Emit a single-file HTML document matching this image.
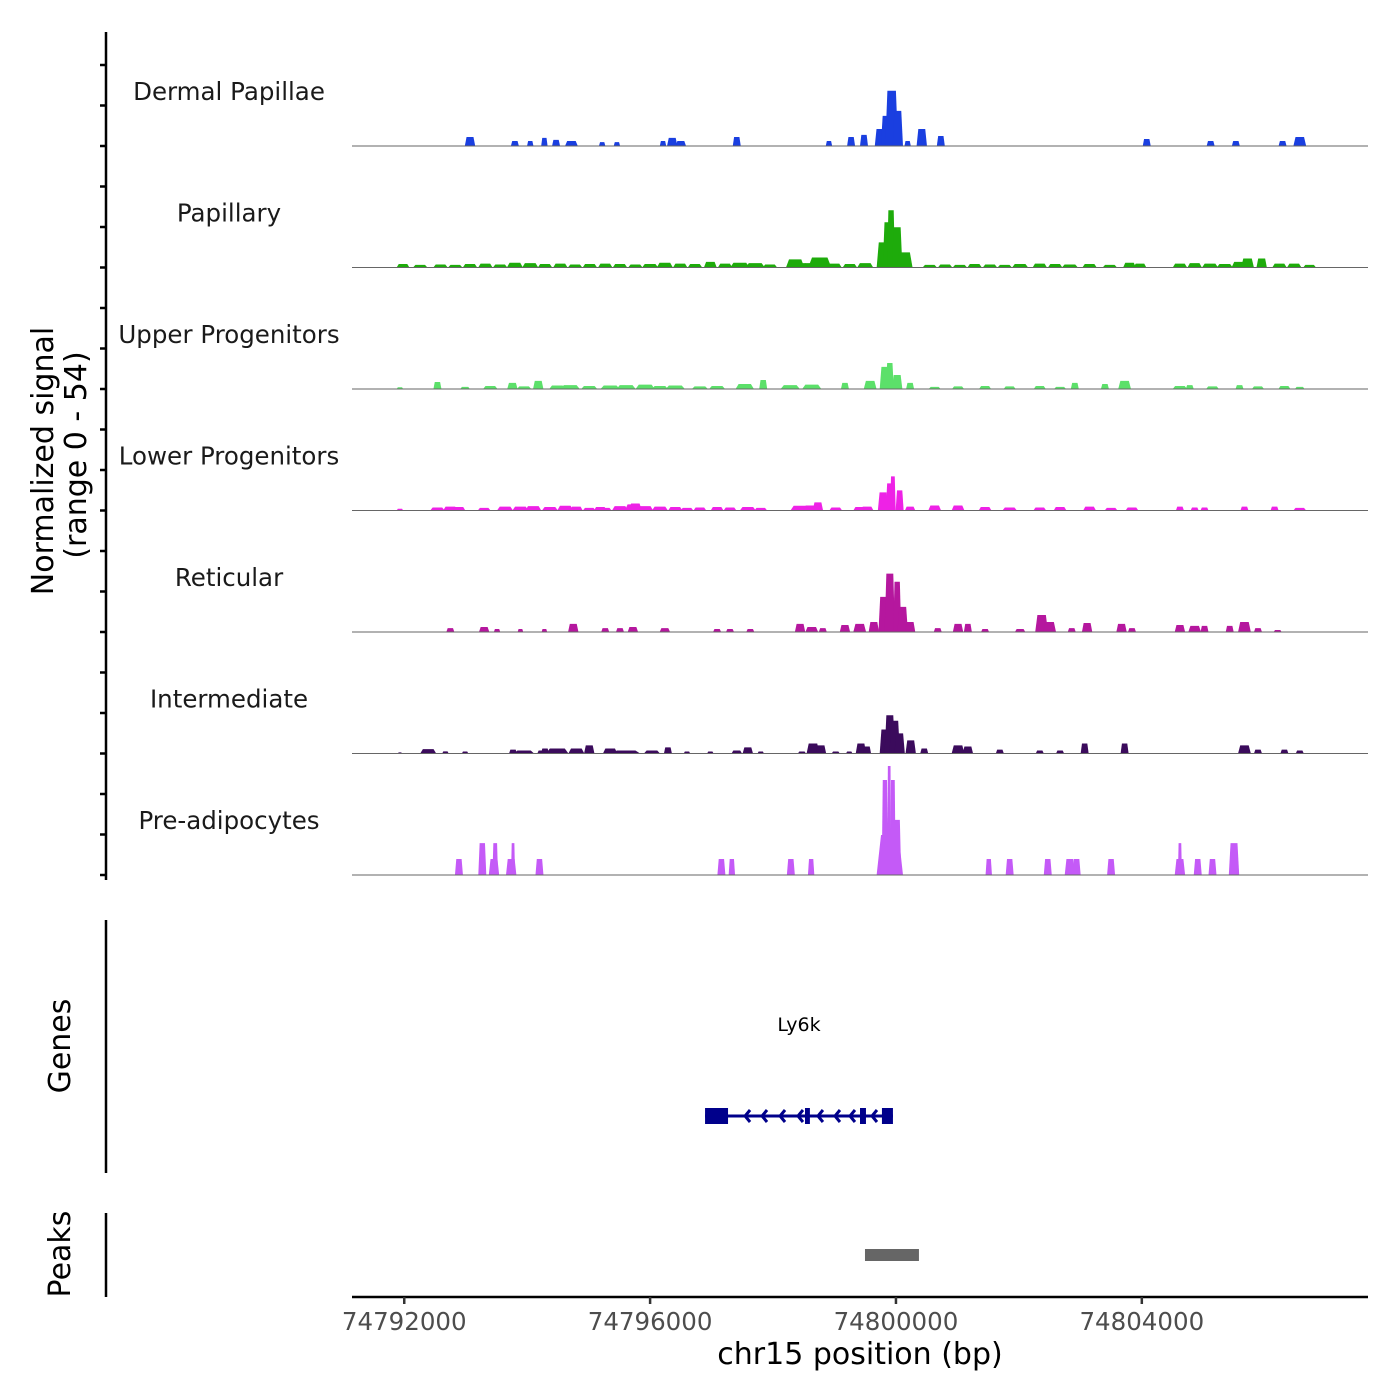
<!DOCTYPE html>
<html><head><meta charset="utf-8"><style>
html,body{margin:0;padding:0;background:#fff}
svg{display:block;font-family:"DejaVu Sans","Liberation Sans",sans-serif}
</style></head><body>
<svg id="chart" width="1400" height="1400" viewBox="0 0 1400 1400">
<g id="tracks"></g>
<line x1="106" y1="32" x2="106" y2="880" stroke="#000" stroke-width="2.5"/>
<g id="yticks"></g>
<text transform="translate(53,461) rotate(-90)" text-anchor="middle" font-size="30" fill="#000">Normalized signal</text>
<text transform="translate(86,455) rotate(-90)" text-anchor="middle" font-size="30" fill="#000">(range 0 - 54)</text>
<line x1="106" y1="920" x2="106" y2="1173" stroke="#000" stroke-width="2.5"/>
<text transform="translate(70,1046) rotate(-90)" text-anchor="middle" font-size="30" fill="#000">Genes</text>
<line x1="106" y1="1213" x2="106" y2="1297" stroke="#000" stroke-width="2.5"/>
<text transform="translate(70,1254) rotate(-90)" text-anchor="middle" font-size="30" fill="#000">Peaks</text>
<g id="gene"></g>
<text x="799" y="1031" text-anchor="middle" font-size="19" fill="#000">Ly6k</text>
<g id="peaks"></g>
<line x1="352" y1="1297" x2="1368" y2="1297" stroke="#000" stroke-width="2.5"/>
<g id="xticks"></g>
<text x="860" y="1364" text-anchor="middle" font-size="30" fill="#000">chr15 position (bp)</text>
</svg>
<script>
const OFFSET = 74790000; // positions stored in kb from this offset
const trackNames = ["Dermal Papillae","Papillary","Upper Progenitors","Lower Progenitors","Reticular","Intermediate","Pre-adipocytes"];
const trackColors = ["#1a3fe0","#1eab0b","#5ce06a","#ee22e6","#b5179e","#3b0b5c","#c45af7"];
const xTickValues = [74792000,74796000,74800000,74804000];
const peakStart = 74799496, peakEnd = 74800374;

const dpPos=[3.07,3.80,4.05,4.28,4.47,4.72,5.22,5.46,6.21,6.36,6.50,7.41,8.91,9.27,9.48,9.74,9.84,9.93,10.03,10.19,10.42,10.73,14.08,15.12,15.53,16.29,16.57];
const dpVal=[4.1,2.3,2.3,3.7,2.8,2.3,1.8,1.8,2.3,3.7,2.3,4.1,2.3,4.1,5.1,7.8,13.8,25.3,16.1,2.3,7.8,4.6,3.2,2.3,2.3,2.3,4.1];
const dpWid=[130,100,80,80,100,160,80,80,80,130,130,100,80,100,100,130,130,160,130,80,130,100,100,100,100,100,160];

const paPos=[1.98,2.26,2.59,2.83,3.07,3.32,3.56,3.80,4.05,4.29,4.54,4.78,5.02,5.27,5.51,5.76,6.00,6.24,6.49,6.73,6.98,7.22,7.46,7.71,7.95,8.36,8.44,8.60,8.76,9.00,9.25,9.50,9.79,9.87,9.92,10.02,10.14,10.55,10.80,11.04,11.28,11.53,11.77,12.02,12.34,12.59,12.83,13.15,13.48,13.80,13.97,14.62,14.86,15.11,15.35,15.59,15.72,15.95,16.24,16.48,16.73];
const paVal=[1.6,1.2,1.4,1.2,1.6,1.8,1.4,2.2,2.0,1.6,1.8,1.4,1.6,1.8,1.6,1.4,1.6,2.2,1.8,1.6,2.6,1.8,2.2,2.0,1.4,3.7,2.0,2.0,4.6,1.8,1.6,2.0,11.5,20.7,26.2,18.4,6.9,1.2,1.4,1.2,1.6,1.4,1.2,1.6,1.8,1.6,1.4,1.6,1.2,2.2,1.8,1.8,2.0,1.8,1.6,2.6,4.1,4.1,1.8,1.8,1.2];
const paWid=[160,180,180,180,180,180,180,200,200,180,180,180,180,180,180,180,200,200,180,180,160,180,240,240,180,230,200,180,290,180,180,200,160,130,100,130,200,180,180,180,180,180,180,200,180,180,200,180,180,160,160,180,180,200,200,200,160,130,180,180,160];

const upPos=[1.93,2.54,2.99,3.40,3.76,3.95,4.18,4.49,4.70,5.01,5.35,5.61,5.92,6.16,6.41,6.81,7.09,7.54,7.84,8.28,8.63,9.17,9.58,9.82,9.90,10.02,10.23,10.63,11.01,11.45,11.85,12.34,12.67,12.91,13.40,13.72,14.62,14.78,15.15,15.59,15.89,16.32,16.57];
const upVal=[0.8,3.2,1.0,1.4,2.8,1.2,3.7,1.6,1.8,1.4,1.6,1.8,2.0,1.4,1.6,1.2,1.4,2.3,4.1,1.8,2.0,2.8,3.7,10.1,11.9,6.4,2.8,1.0,1.2,1.4,1.2,1.4,1.0,2.8,2.3,3.7,1.4,1.8,1.2,1.8,1.2,1.4,1.0];
const upWid=[80,100,120,180,130,180,130,200,240,200,240,240,240,200,240,200,200,230,100,240,240,100,160,130,100,130,100,150,150,150,150,150,150,100,100,160,180,100,160,100,150,150,120];

const loPos=[1.93,2.54,2.75,2.89,3.30,3.64,3.89,4.10,4.37,4.62,4.80,5.01,5.19,5.27,5.51,5.72,5.76,5.92,6.16,6.41,6.60,6.81,7.09,7.30,7.59,7.80,8.44,8.62,8.73,9.02,9.41,9.53,9.79,9.90,9.95,10.06,10.23,10.63,11.01,11.45,11.85,12.34,12.67,13.15,13.50,13.84,14.62,14.86,15.02,15.67,16.16,16.57];
const loVal=[0.8,1.4,1.8,1.6,1.2,1.8,1.8,2.0,1.6,2.2,1.8,1.2,1.6,1.2,2.0,2.8,3.2,2.0,1.8,1.6,1.2,1.4,1.6,1.4,1.6,1.2,2.2,2.3,3.7,1.4,1.6,1.8,8.3,12.4,15.6,9.2,1.8,2.3,2.3,1.6,1.4,1.4,1.6,1.8,1.2,1.4,1.8,1.4,1.4,1.8,1.8,1.2];
const loWid=[80,180,180,160,160,200,200,200,200,200,160,160,160,160,200,200,160,200,200,180,160,160,160,160,200,160,240,200,130,160,160,160,130,100,70,100,130,160,160,160,180,160,160,160,160,160,100,100,100,100,100,160];

const rePos=[2.75,3.30,3.51,3.89,4.28,4.75,5.27,5.51,5.72,6.24,7.09,7.30,7.63,8.44,8.63,8.81,9.17,9.41,9.64,9.80,9.90,10.02,10.11,10.23,10.68,11.01,11.17,11.45,12.02,12.37,12.50,12.86,13.11,13.67,13.84,14.62,14.86,15.02,15.43,15.67,15.89,16.21];
const reVal=[1.8,2.3,1.4,1.4,1.4,3.7,1.8,1.8,2.3,1.8,1.4,1.4,1.4,3.7,2.3,1.8,3.2,3.7,4.6,16.1,26.7,23.0,11.5,4.6,1.8,3.7,3.7,1.4,1.4,7.8,4.6,1.8,4.1,3.7,1.8,3.2,2.8,2.8,2.8,4.6,1.8,0.9];
const reWid=[100,130,80,70,70,130,100,100,130,130,100,100,100,130,160,100,130,160,130,130,130,100,130,130,100,130,100,100,130,160,160,100,130,130,100,130,160,100,100,160,100,100];

const inPos=[1.93,2.39,2.67,2.99,3.77,3.95,4.23,4.29,4.49,4.80,5.01,5.35,5.61,6.03,6.29,6.60,6.98,7.41,7.59,7.80,8.47,8.65,8.78,9.02,9.24,9.43,9.53,9.82,9.90,9.98,10.06,10.24,10.46,11.01,11.17,11.69,12.34,12.67,13.07,13.72,15.67,15.89,16.32,16.57];
const inVal=[0.5,2.0,1.0,0.9,1.8,1.4,1.4,2.3,2.3,2.3,3.7,2.3,1.4,1.4,2.8,0.9,0.9,1.4,2.8,0.9,0.9,4.6,3.7,0.9,0.9,4.6,3.2,11.0,17.5,15.0,9.2,6.0,2.3,3.7,3.2,1.8,1.4,1.4,4.6,4.6,3.7,1.8,1.8,1.4];
const inWid=[50,200,80,80,100,250,100,100,280,200,130,180,350,200,100,80,80,130,130,80,100,160,130,100,80,130,100,130,130,130,130,130,100,160,130,100,100,100,100,100,160,100,100,100];

const prPos=[2.89,3.27,3.46,3.48,3.74,3.77,4.20,7.16,7.33,8.29,8.62,9.82,9.89,9.95,9.90,10.02,11.51,11.85,12.47,12.83,12.94,13.50,14.62,14.62,14.91,15.15,15.50];
const prVal=[7.3,14.6,7.3,14.6,7.3,14.6,7.3,7.3,7.3,7.3,7.3,43.5,49.9,43.5,18.3,25.2,7.3,7.3,7.3,7.3,7.3,7.3,7.3,14.6,7.3,7.3,14.6];
const prWid=[100,100,130,70,130,50,100,100,80,100,80,80,50,70,330,100,80,100,100,130,100,100,130,50,100,100,130];

const trackPos=[dpPos,paPos,upPos,loPos,rePos,inPos,prPos];
const trackVal=[dpVal,paVal,upVal,loVal,reVal,inVal,prVal];
const trackWid=[dpWid,paWid,upWid,loWid,reWid,inWid,prWid];

const NS="http://www.w3.org/2000/svg";
const X0=352,X1=1368,D0=74791150,D1=74807680;
function xScale(bp){return X0+(bp-D0)/(D1-D0)*(X1-X0);}
const TOP=25, TH=121.5, RANGE=54, HPX=118;
function base(i){return TOP+TH*(i+1)-0.5;}
function yScale(i,v){return base(i)-v/RANGE*HPX;}
function mk(tag,attrs,parent){const e=document.createElementNS(NS,tag);for(const k in attrs)e.setAttribute(k,attrs[k]);parent.appendChild(e);return e;}

const tg=document.getElementById('tracks');
for(let i=0;i<trackNames.length;i++){
  const g=mk('g',{},tg);
  
  
  const pos=trackPos[i],val=trackVal[i],wid=trackWid[i];
  for(let j=0;j<pos.length;j++){
    const c=OFFSET+pos[j]*1000,w=wid[j]*1.3;
    const xa=xScale(c-w/2),xb=xScale(c-w/3),xc=xScale(c+w/3),xd=xScale(c+w/2);
    const yb=base(i),yt=yScale(i,val[j]);
    const p=mk('polygon',{points:`${xa},${yb} ${xb},${yt} ${xc},${yt} ${xd},${yb}`,fill:trackColors[i]},g);
    
    
  }
  const bl=mk('line',{x1:X0,x2:X1,y1:base(i),y2:base(i),stroke:'#666','stroke-width':1},g);
  
  
  const t=mk('text',{x:229,y:base(i)-46,'text-anchor':'middle','font-size':24.5,fill:'#1a1a1a'},g);
  t.textContent=trackNames[i];
  
  
}
const yt=document.getElementById('yticks');
for(let y=base(6);y>=30;y-=TH/3){
  const l=mk('line',{x1:100,x2:106,y1:y,y2:y,stroke:'#000','stroke-width':2.5},yt);
  
  
}
const xt=document.getElementById('xticks');
xTickValues.forEach(v=>{
  const x=xScale(v);
  const l=mk('line',{x1:x,x2:x,y1:1297,y2:1304,stroke:'#333','stroke-width':2.5},xt);
  
  
  const t=mk('text',{x:x,y:1330,'text-anchor':'middle','font-size':24.5,fill:'#4d4d4d'},xt);
  t.textContent=String(v);
  
  
});
// gene model
const geneStart=74796894, geneEnd=74799951;
const exonStarts=[74796894,74798520,74799415,74799772];
const exonEnds=[74797268,74798600,74799512,74799951];
const exonHalf=[8,8,8,8];
const gg=document.getElementById('gene'), GY=1116, C='#00008b';
const gl=mk('line',{x1:xScale(geneStart),x2:xScale(geneEnd),y1:GY,y2:GY,stroke:C,'stroke-width':3},gg);


for(let k=0;k<exonStarts.length;k++){
  const r=mk('rect',{x:xScale(exonStarts[k]),y:GY-exonHalf[k],width:xScale(exonEnds[k])-xScale(exonStarts[k]),height:exonHalf[k]*2,fill:C},gg);
  
  
}
const arrowPos=[74797545,74797821,74798114,74798406,74798731,74799008,74799252,74799610];
arrowPos.forEach(a=>{
  const x=xScale(a);
  const p=mk('polyline',{points:`${x+5},${GY-6} ${x},${GY} ${x+5},${GY+6}`,fill:'none',stroke:C,'stroke-width':3},gg);
  
  
});
const pk=mk('rect',{x:xScale(peakStart),y:1249,width:xScale(peakEnd)-xScale(peakStart),height:12,fill:'#666'},document.getElementById('peaks'));


</script>
</body></html>
